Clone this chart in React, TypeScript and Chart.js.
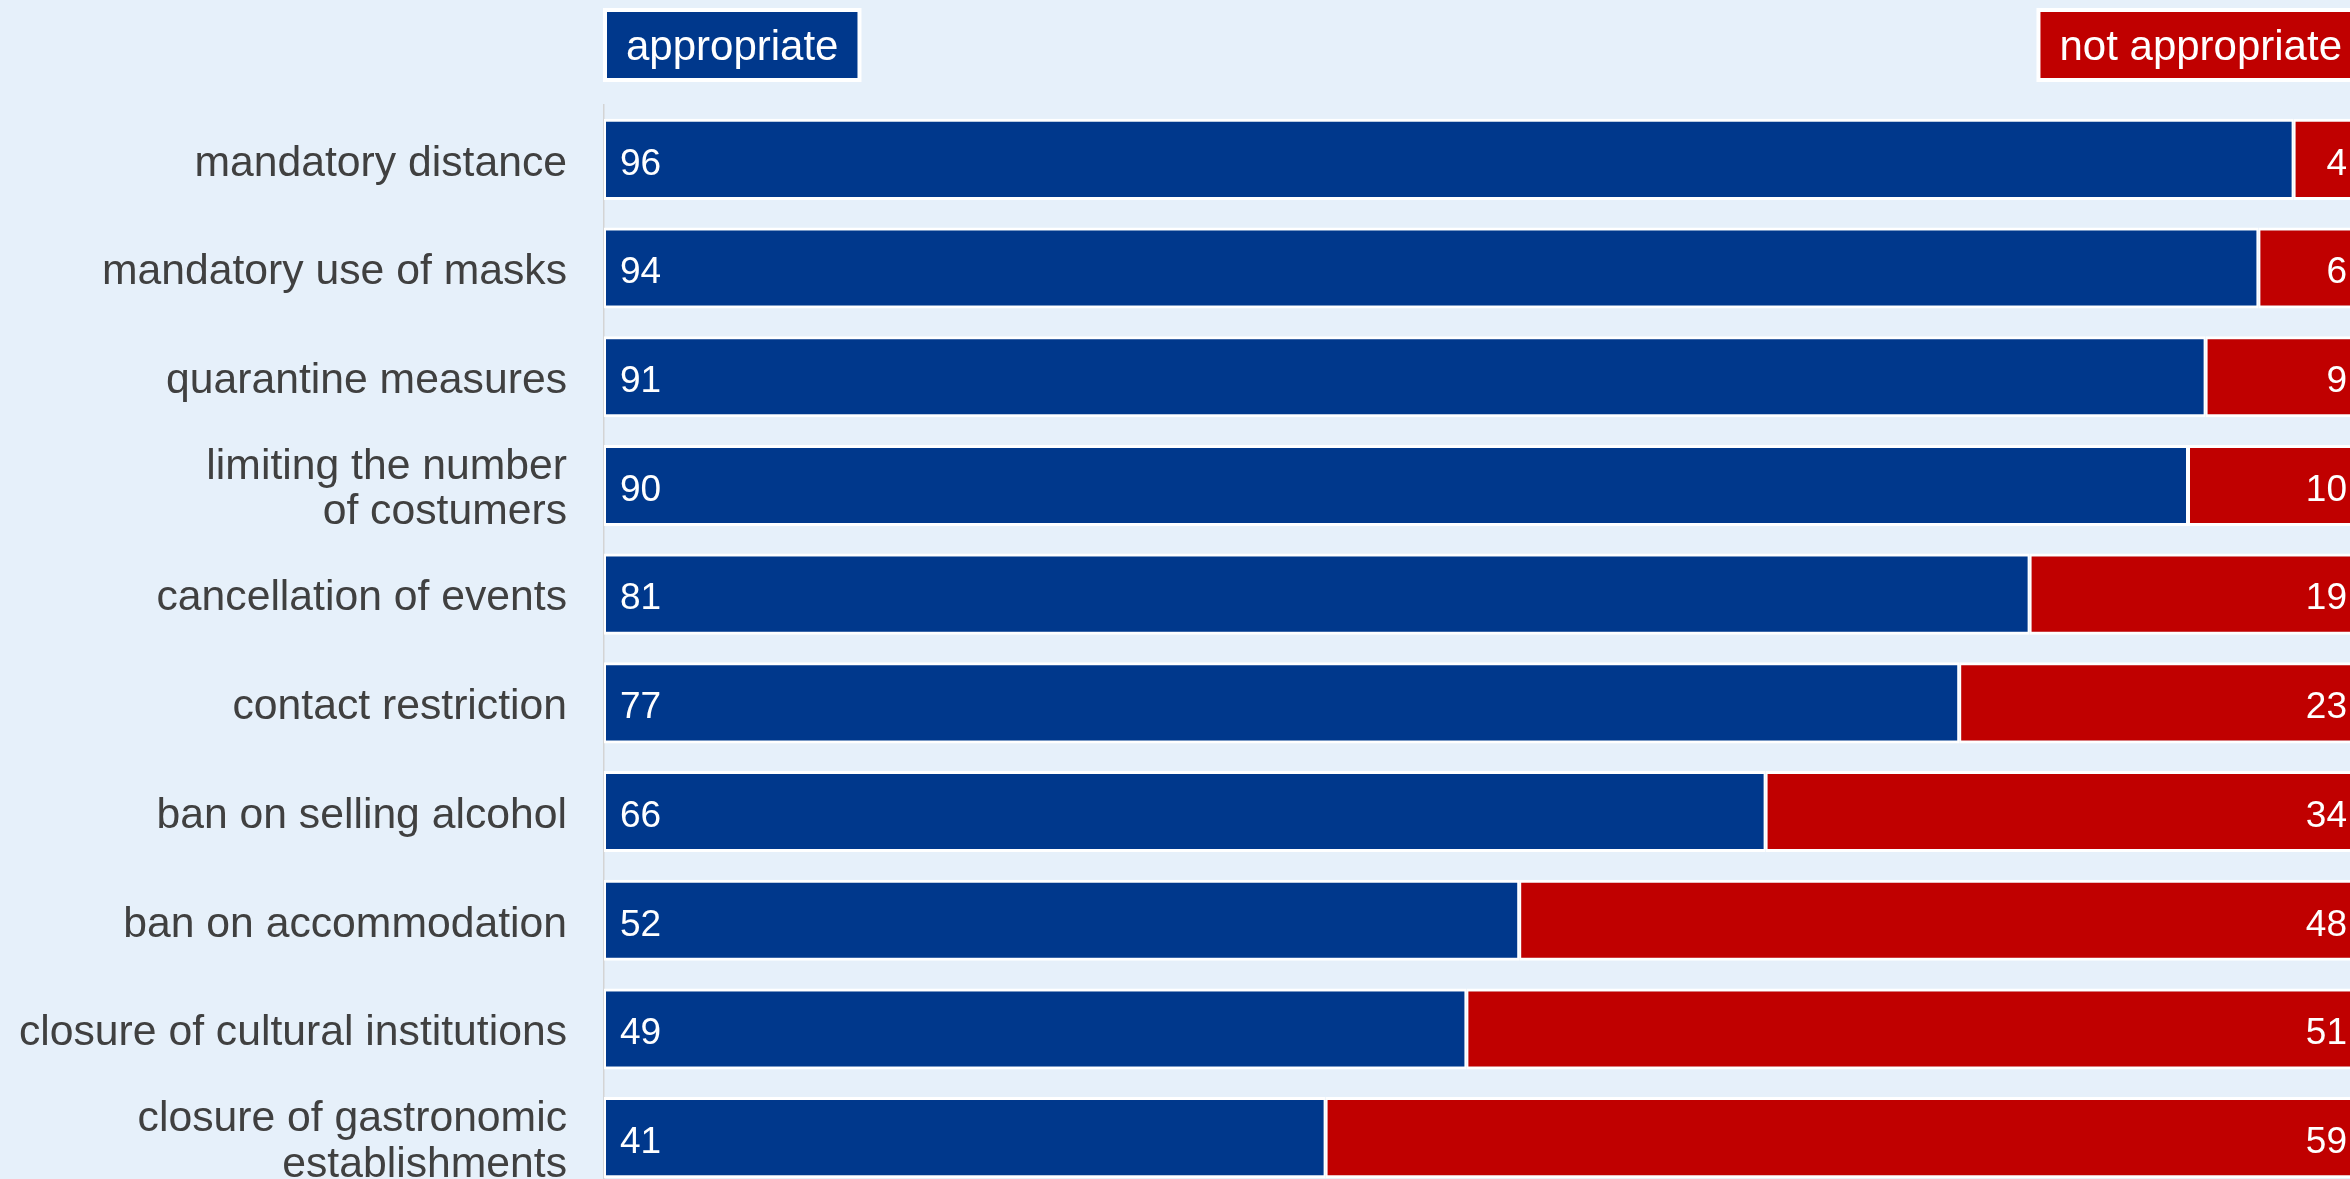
import React, { useEffect, useRef } from "react";
import { Chart, registerables } from "chart.js";

Chart.register(...registerables);

const categories: (string | string[])[] = [
  "mandatory distance",
  "mandatory use of masks",
  "quarantine measures",
  ["limiting the number", "of costumers"],
  "cancellation of events",
  "contact restriction",
  "ban on selling alcohol",
  "ban on accommodation",
  "closure of cultural institutions",
  ["closure of gastronomic", "establishments"],
];
const appropriate = [96, 94, 91, 90, 81, 77, 66, 52, 49, 41];
const notAppropriate = [4, 6, 9, 10, 19, 23, 34, 48, 51, 59];
const seriesNames = ["appropriate", "not appropriate"];

const BLUE = "#00388c";
const RED = "#c00000";
const BG = "#e6f0fa";
const FONT = "'Liberation Sans', Arial, sans-serif";

const valueLabels = {
  id: "valueLabels",
  afterDatasetsDraw(chart: any) {
    const ctx = chart.ctx;
    ctx.save();
    ctx.font = `37px ${FONT}`;
    ctx.fillStyle = "#ffffff";
    ctx.textBaseline = "alphabetic";
    chart.data.datasets.forEach((ds: any, di: number) => {
      const meta = chart.getDatasetMeta(di);
      meta.data.forEach((el: any, i: number) => {
        const v = ds.data[i];
        if (di === 0) {
          ctx.textAlign = "left";
          ctx.fillText(String(v), el.base + 16, el.y + 15.3);
        } else {
          ctx.textAlign = "right";
          ctx.fillText(String(v), el.x - 17, el.y + 15.3);
        }
      });
    });
    ctx.restore();
  },
};

const topLegend = {
  id: "topLegend",
  afterDraw(chart: any) {
    const ctx = chart.ctx;
    const xs = chart.scales.x;
    ctx.save();
    ctx.font = `42px ${FONT}`;
    ctx.textBaseline = "alphabetic";
    ctx.textAlign = "left";
    const top = 12;
    const h = 66;
    const pad = 19;
    const drawBox = (text: string, color: string, left: number | null, right: number | null) => {
      const w = ctx.measureText(text).width + pad * 2;
      const x = left !== null ? left : (right as number) - w;
      ctx.fillStyle = "#ffffff";
      ctx.fillRect(x - 4, top - 4, w + 8, h + 8);
      ctx.fillStyle = color;
      ctx.fillRect(x, top, w, h);
      ctx.fillStyle = "#ffffff";
      ctx.fillText(text, x + pad, 60);
    };
    drawBox(seriesNames[0], BLUE, xs.getPixelForValue(0) + 3, null);
    drawBox(seriesNames[1], RED, null, xs.getPixelForValue(100) - 3);
    ctx.restore();
  },
};

export default function App() {
  const ref = useRef<HTMLCanvasElement | null>(null);
  useEffect(() => {
    if (!ref.current) return;
    const chart = new Chart(ref.current, {
      type: "bar",
      data: {
        labels: categories as any,
        datasets: [
          {
            label: seriesNames[0],
            data: appropriate,
            backgroundColor: BLUE,
            borderColor: "#ffffff",
            borderWidth: { top: 3, bottom: 3, left: 2, right: 2 } as any,
            borderSkipped: false,
            barPercentage: 0.746,
            categoryPercentage: 1,
          },
          {
            label: seriesNames[1],
            data: notAppropriate,
            backgroundColor: RED,
            borderColor: "#ffffff",
            borderWidth: { top: 3, bottom: 3, left: 2, right: 2 } as any,
            borderSkipped: false,
            barPercentage: 0.746,
            categoryPercentage: 1,
          },
        ],
      },
      plugins: [valueLabels, topLegend],
      options: {
        indexAxis: "y",
        animation: false,
        responsive: false,
        maintainAspectRatio: false,
        devicePixelRatio: 1,
        layout: { padding: { top: 105, left: 0, right: 0, bottom: 0 } },
        plugins: {
          legend: { display: false },
          tooltip: { enabled: false },
        },
        scales: {
          x: {
            stacked: true,
            min: 0,
            max: 100,
            display: false,
          },
          y: {
            stacked: true,
            grid: { display: false, drawTicks: false },
            border: { display: true, color: "#d4d4d4", width: 1.5 },
            ticks: {
              color: "#404040",
              font: { family: FONT, size: 42.7, lineHeight: 1.06 },
              padding: 37,
              labelOffset: 4.5,
              autoSkip: false,
            },
            afterFit: (scale: any) => {
              scale.width = 604;
              scale.paddingTop = 0;
              scale.paddingBottom = 0;
            },
          },
        },
      },
    });
    return () => chart.destroy();
  }, []);
  return (
    <div
      style={{
        position: "absolute",
        left: 0,
        top: 0,
        width: 2350,
        height: 1179,
        overflow: "hidden",
        background: BG,
      }}
    >
      <canvas ref={ref} width={2364} height={1192} style={{ display: "block", width: 2364, height: 1192 }} />
    </div>
  );
}
